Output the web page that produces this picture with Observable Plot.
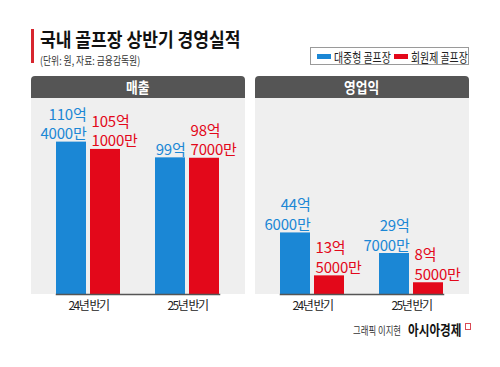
<!DOCTYPE html>
<html><head><meta charset="utf-8">
<script src="https://cdn.jsdelivr.net/npm/d3@7"></script>
<script src="https://cdn.jsdelivr.net/npm/@observablehq/plot@0.6"></script>
<style>
html,body{margin:0;padding:0;background:#fff;}
body{width:500px;height:367px;position:relative;overflow:hidden;font-family:"Noto Sans CJK KR",sans-serif;color:#111;}
#bar{position:absolute;left:31px;top:29px;width:3px;height:34px;background:#d7262e;}
.sx{position:absolute;white-space:nowrap;transform-origin:0 0;}
#title{left:40px;top:28.5px;font-size:19px;line-height:19px;font-weight:700;transform:scaleX(0.9);color:#111;}
#subtitle{left:40px;top:54.5px;font-size:11px;line-height:11px;transform:scaleX(0.8);color:#333;}
#legend{position:absolute;left:310px;top:47px;width:157px;height:16px;border:1px solid #9a9a9a;background:#fff;}
.sw{position:absolute;top:6px;width:14px;height:5px;}
.lt{position:absolute;top:1.5px;font-size:13px;line-height:13px;white-space:nowrap;transform-origin:0 0;transform:scaleX(0.76);color:#222;}
.panel{position:absolute;top:76px;width:214px;}
.head{height:22px;background:#555;color:#fff;border-radius:4px 4px 0 0;text-align:center;font-weight:700;font-size:15px;line-height:22px;}
.head span{display:inline-block;transform:scaleX(0.85);}
.panel svg text{letter-spacing:-0.2px;}
.panel svg g[aria-label="fx-axis tick label"] text{letter-spacing:-1.5px;}
#footer{left:353px;top:325px;font-size:11px;line-height:11px;color:#333;transform:scaleX(0.76);}
#brand{left:408px;top:322px;font-size:14px;line-height:14px;font-weight:700;color:#111;transform:scaleX(0.83);}
#icon{position:absolute;left:465px;top:323px;width:4px;height:5px;border:1.3px solid #d94a55;}
</style>
</head><body>
<div id="bar"></div>
<div id="title" class="sx">국내 골프장 상반기 경영실적</div>
<div id="subtitle" class="sx">(단위: 원, 자료: 금융감독원)</div>
<div id="legend"></div>
<div id="p1" class="panel" style="left:31px"></div>
<div id="p2" class="panel" style="left:255px"></div>
<div id="footer" class="sx">그래픽 이지현</div>
<div id="brand" class="sx">아시아경제</div>
<div id="icon"></div>
<script>
const periods = ["24년 반기", "25년 반기"];
const types = ["대중형 골프장", "회원제 골프장"];
const colors = ["#1b87d5", "#e3081a"];
const metrics = ["매출", "영업익"];
// values in 억원
const salesPublic = [110.4, 99];
const salesMember = [105.1, 98.7];
const profitPublic = [44.6, 29.7];
const profitMember = [13.5, 8.5];
const salesLabelsPublic = ["110억\n4000만", "99억"];
const salesLabelsMember = ["105억\n1000만", "98억\n7000만"];
const profitLabelsPublic = ["44억\n6000만", "29억\n7000만"];
const profitLabelsMember = ["13억\n5000만", "8억\n5000만"];

function rows(pub, mem, lp, lm) {
  const out = [];
  periods.forEach((p, i) => {
    out.push({period: p, type: types[0], value: pub[i], label: lp[i]});
    out.push({period: p, type: types[1], value: mem[i], label: lm[i]});
  });
  return out;
}

function panel(data) {
  return Plot.plot({
    width: 214, height: 222,
    marginTop: 0, marginBottom: 26, marginLeft: 0, marginRight: 0,
    style: {fontFamily: "'Noto Sans CJK KR', sans-serif", fontSize: "12px", color: "#222",
            background: "linear-gradient(#efefef 0px, #efefef 196px, #fff 196px)", overflow: "visible"},
    fx: {domain: periods, paddingInner: 0.35, paddingOuter: 0.25, label: null, axis: "bottom", tickSize: 0, tickPadding: 7},
    x: {domain: types, paddingInner: 0.12, paddingOuter: 0, axis: null},
    y: {domain: [0, 142], axis: null},
    color: {domain: types, range: colors},
    marks: [
      Plot.barY(data, {fx: "period", x: "type", y: "value", fill: "type"}),
      Plot.text(data.filter(d => d.type === types[0]), {fx: "period", x: "type", y: "value", text: "label",
        fill: colors[0], textAnchor: "end", dx: 15, dy: -3, lineAnchor: "bottom", lineHeight: 1.3, fontSize: 15, fontWeight: 400}),
      Plot.text(data.filter(d => d.type === types[1]), {fx: "period", x: "type", y: "value", text: "label",
        fill: colors[1], textAnchor: "start", dx: -14, dy: -3, lineAnchor: "bottom", lineHeight: 1.3, fontSize: 15, fontWeight: 400}),
      Plot.frame({anchor: "bottom", facet: "super", stroke: "#555", strokeWidth: 1.5})
    ]
  });
}

const sets = [
  rows(salesPublic, salesMember, salesLabelsPublic, salesLabelsMember),
  rows(profitPublic, profitMember, profitLabelsPublic, profitLabelsMember)
];
["p1", "p2"].forEach((id, k) => {
  const el = document.getElementById(id);
  const h = document.createElement("div");
  h.className = "head";
  const s = document.createElement("span");
  s.textContent = metrics[k];
  h.appendChild(s);
  el.appendChild(h);
  el.appendChild(panel(sets[k]));
});

// legend
const lg = document.getElementById("legend");
const lx = [[6, 23], [83, 100]];
types.forEach((t, i) => {
  const sw = document.createElement("div");
  sw.className = "sw";
  sw.style.left = lx[i][0] + "px";
  sw.style.background = colors[i];
  lg.appendChild(sw);
  const tx = document.createElement("div");
  tx.className = "lt";
  tx.style.left = lx[i][1] + "px";
  tx.textContent = t;
  lg.appendChild(tx);
});
</script>
</body></html>
